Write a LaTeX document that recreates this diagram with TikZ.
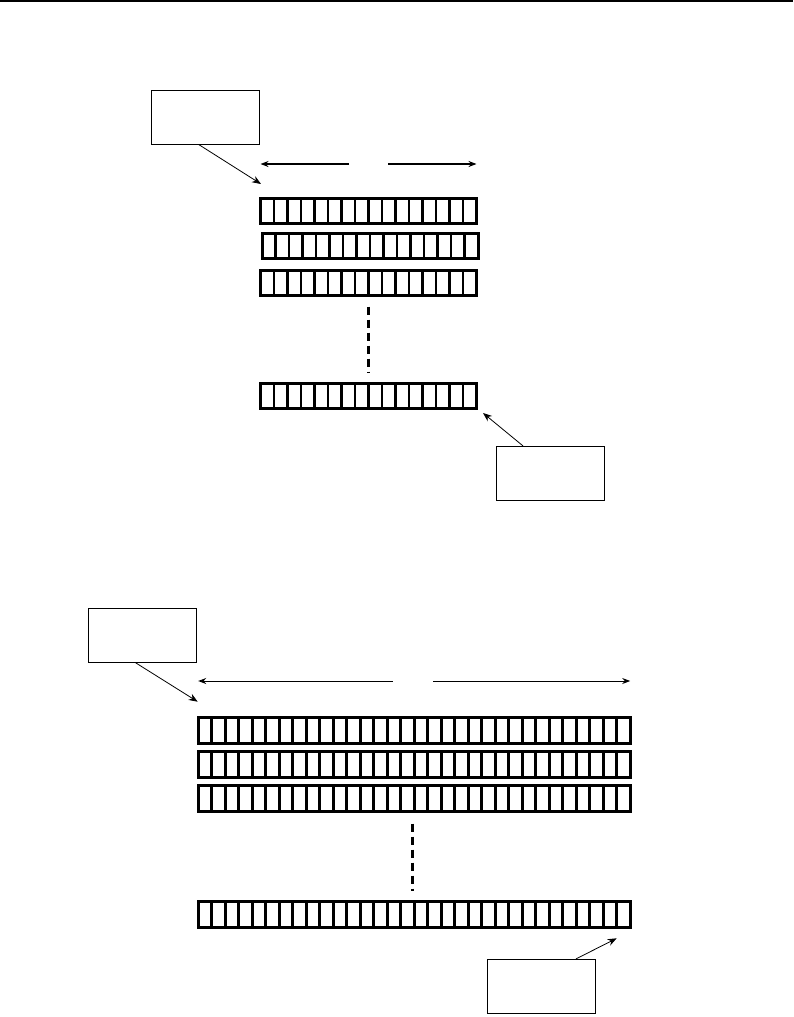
\documentclass[tikz,border=0pt]{standalone}
\usepackage{tikz}
\usetikzlibrary{arrows.meta, positioning, calc}

\begin{document}
\begin{tikzpicture}[x=1pt, y=-1pt,
    box/.style={rectangle, draw, line width=0.8pt, minimum width=108pt, minimum height=54pt},
    cellrow/.style={rectangle, draw, line width=3pt, inner sep=0pt, outer sep=0pt, minimum height=25pt},
    cellline/.style={line width=2.6pt},
    gap/.style={inner sep=0pt, outer sep=0pt, minimum height=1pt},
    pointer/.style={-{Stealth[length=9pt, width=7pt]}, line width=0.8pt},
    span/.style={-{Stealth[length=8pt, width=6pt]}, line width=1.8pt},
    dots/.style={line width=3pt, dash pattern=on 8pt off 5pt}
]
    \useasboundingbox (0,0) rectangle (793,1017);
    \draw[line width=2pt] (0,1) -- (793,1);

    % upper array, 16 cells per row
    \node[box] (note1) at (205.5,117) {};
    \node[cellrow, minimum width=216pt] (t1) at (368.5,211) {};
    \node[cellrow, minimum width=216pt] (t2) at (370,246) {};
    \node[cellrow, minimum width=216pt] (t3) at (368.5,283) {};
    \node[cellrow, minimum width=216pt] (t4) at (368.5,395.5) {};
    \node[box] (note2) at (550,473.3) {};
    \foreach \r in {t1,t2,t3,t4}
        \foreach \i in {1,...,15}
            \draw[cellline] ($(\r.north west)!\i/16!(\r.north east)$) -- ($(\r.south west)!\i/16!(\r.south east)$);
    \node[gap, minimum width=39pt] (wtop) at (368.5,164) {};
    \draw[span] (wtop) -- (wtop -| t1.west);
    \draw[span] (wtop) -- (wtop -| t1.east);
    \coordinate (p1) at (261,184);
    \coordinate (p2) at (483,413);
    \draw[pointer] ($(note1.south)+(-7,0)$) -- (p1);
    \draw[pointer] ($(note2.north)+(-27,0)$) -- (p2);
    \draw[dots, shorten <=11pt, shorten >=10pt] (t3.south) -- (t4.north);

    % lower array, 32 cells per row
    \node[box] (note3) at (142.5,635.3) {};
    \node[cellrow, minimum width=432pt, minimum height=26.5pt] (b1) at (414.2,730.5) {};
    \node[cellrow, minimum width=432pt, minimum height=26.5pt] (b2) at (414.2,764.3) {};
    \node[cellrow, minimum width=432pt, minimum height=26.5pt] (b3) at (414.2,798.3) {};
    \node[cellrow, minimum width=432pt, minimum height=26.5pt] (b4) at (414.2,914.7) {};
    \node[box] (note4) at (541.5,986.3) {};
    \foreach \r in {b1,b2,b3,b4}
        \foreach \i in {1,...,31}
            \draw[cellline] ($(\r.north west)!\i/32!(\r.north east)$) -- ($(\r.south west)!\i/32!(\r.south east)$);
    \node[gap, minimum width=40.6pt] (wbot) at (413,681) {};
    \draw[span, line width=1pt] (wbot) -- (wbot -| b1.west);
    \draw[span, line width=1pt] (wbot) -- (wbot -| b1.east);
    \coordinate (p3) at (197.7,701.7);
    \coordinate (p4) at (616.7,938.3);
    \draw[pointer] ($(note3.south)+(-7,0)$) -- (p3);
    \draw[pointer] ($(note4.north)+(34.5,0)$) -- (p4);
    \draw[dots, shorten <=12pt, shorten >=10.7pt] ([xshift=-2pt]b3.south) -- ([xshift=-2pt]b4.north);
\end{tikzpicture}
\end{document}
